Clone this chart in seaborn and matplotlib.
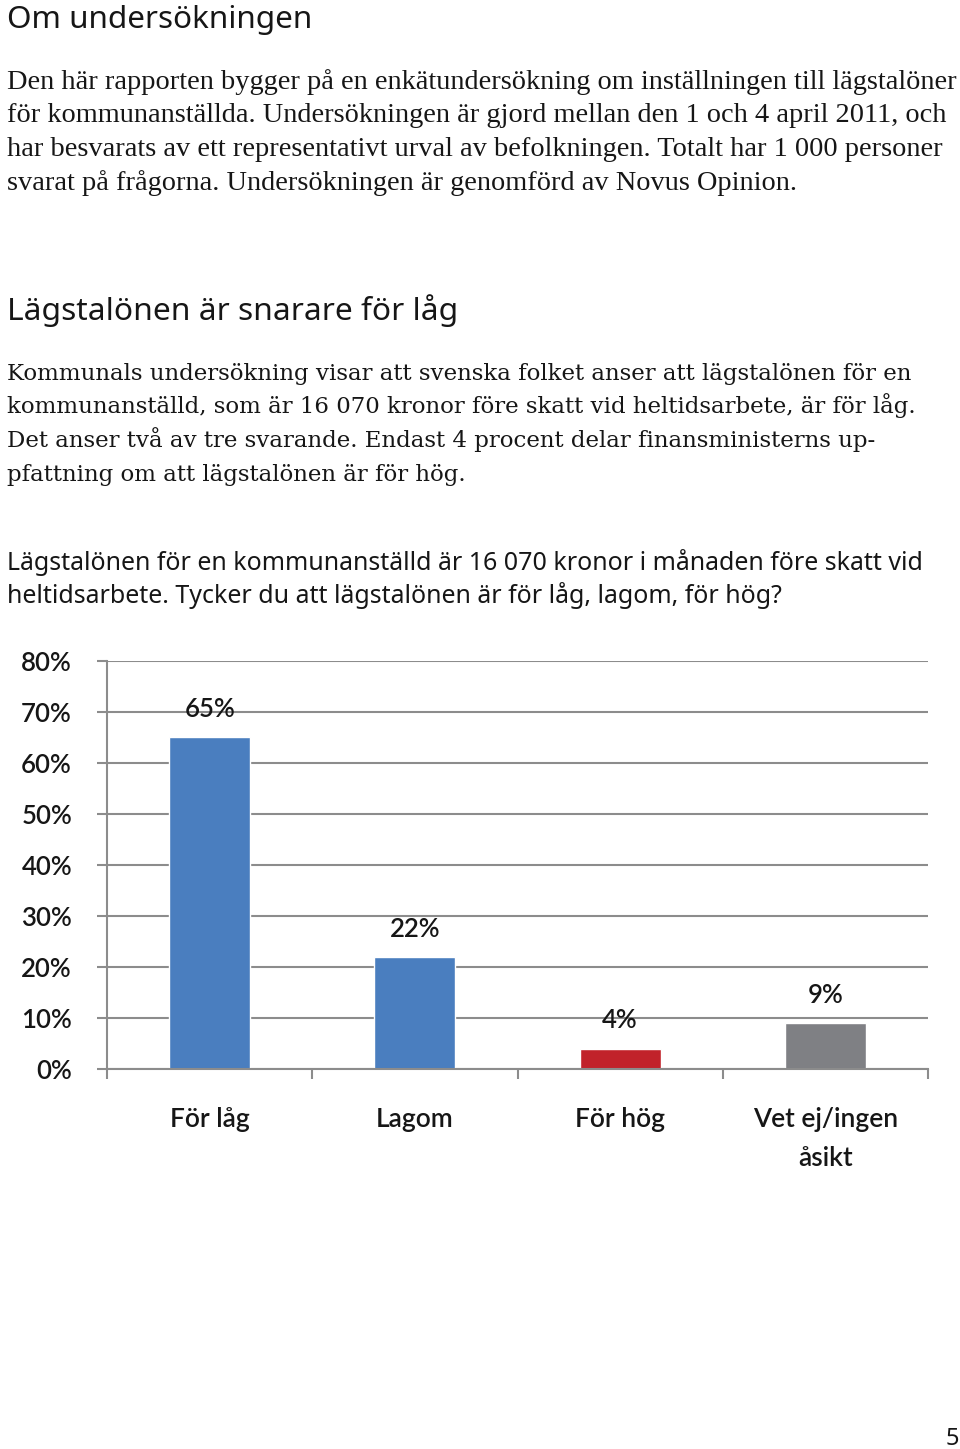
import matplotlib
matplotlib.use("Agg")
import matplotlib.pyplot as plt
import seaborn as sns
import pandas as pd

# ---------------- data ----------------
categories = ["För låg", "Lagom", "För hög", "Vet ej/ingen\nåsikt"]
values = [65, 22, 4, 9]
bar_colors = ["#4A7EBF", "#4A7EBF", "#C1222A", "#7F8084"]
y_ticks = [0, 10, 20, 30, 40, 50, 60, 70, 80]
y_tick_labels = [f"{v}%" for v in y_ticks]
bar_labels = [f"{v}%" for v in values]

title1 = "Om undersökningen"
para1 = [
    "Den här rapporten bygger på en enkätundersökning om inställningen till lägstalöner",
    "för kommunanställda. Undersökningen är gjord mellan den 1 och 4 april 2011, och",
    "har besvarats av ett representativt urval av befolkningen. Totalt har 1 000 personer",
    "svarat på frågorna. Undersökningen är genomförd av Novus Opinion.",
]
title2 = "Lägstalönen är snarare för låg"
para2 = [
    "Kommunals undersökning visar att svenska folket anser att lägstalönen för en",
    "kommunanställd, som är 16 070 kronor före skatt vid heltidsarbete, är för låg.",
    "Det anser två av tre svarande. Endast 4 procent delar finansministerns up-",
    "pfattning om att lägstalönen är för hög.",
]
question = [
    "Lägstalönen för en kommunanställd är 16 070 kronor i månaden före skatt vid",
    "heltidsarbete. Tycker du att lägstalönen är för låg, lagom, för hög?",
]
page_number = "5"

# ---------------- figure ----------------
sns.set_theme(style="white")
plt.rcParams["font.family"] = ["Lato", "DejaVu Sans"]

W, H = 960, 1449
fig = plt.figure(figsize=(W / 100, H / 100), dpi=100)
fig.patch.set_facecolor("white")
renderer = fig.canvas.get_renderer()
TXT = "#161616"
SANS = ["Noto Sans", "DejaVu Sans"]


def fx(px):
    return px / W


def fy(py):
    return 1 - py / H


def block(lines, baselines, ref_idx, ref_width, family, weight="normal"):
    probe = fig.text(0, 0, lines[ref_idx], fontsize=10, family=family, weight=weight)
    w = probe.get_window_extent(renderer).width
    probe.remove()
    size = 10 * ref_width / w
    for line, b in zip(lines, baselines):
        fig.text(fx(7), fy(b), line, fontsize=size, family=family, weight=weight,
                 color=TXT, ha="left", va="baseline")


block([title1], [28], 0, 306, SANS)
block(para1, [89, 122.5, 156, 189.5], 0, 951, ["Liberation Serif", "DejaVu Serif"])
block([title2], [320], 0, 450, SANS)
block(para2, [380, 413.5, 447, 480.5], 1, 915, ["DejaVu Serif"])
block(question, [570, 603], 0, 914, SANS)
fig.text(fx(959), fy(1445), page_number, fontsize=17, family=SANS,
         weight="bold", color=TXT, ha="right", va="baseline")

# ---------------- chart ----------------
ax = fig.add_axes([fx(107), fy(1069), (928 - 107) / W, (1069 - 661) / H])
df = pd.DataFrame({"cat": categories, "val": values})
sns.barplot(data=df, x="cat", y="val", hue="cat", palette=bar_colors,
            width=0.395, legend=False, ax=ax, saturation=1)

GRID = "#8c8c8c"
ax.set_ylim(0, 80)
ax.set_xlim(-0.5, len(categories) - 0.5)
ax.set_yticks(y_ticks)
ax.set_yticklabels(y_tick_labels)
ax.yaxis.grid(True, color=GRID, lw=1.5)
ax.set_axisbelow(True)
ax.set_xlabel("")
ax.set_ylabel("")
for s in ["top", "right"]:
    ax.spines[s].set_visible(False)
for s in ["left", "bottom"]:
    ax.spines[s].set_color(GRID)
    ax.spines[s].set_linewidth(1.5)

ax.tick_params(axis="y", which="major", length=7.2, width=1.5, color=GRID,
               direction="out", pad=18, labelsize=18.5, labelcolor=TXT, left=True)
ax.set_xticks([i - 0.5 for i in range(len(categories) + 1)], minor=True)
ax.tick_params(axis="x", which="minor", length=7.2, width=1.5, color=GRID,
               direction="out", bottom=True)
ax.tick_params(axis="x", which="major", length=0, pad=27, labelsize=19,
               labelcolor=TXT)
for lbl in ax.get_xticklabels() + ax.get_yticklabels():
    lbl.set_fontweight("semibold")
for lbl in ax.get_xticklabels():
    lbl.set_linespacing(1.75)
    lbl.set_verticalalignment("top")

for cont in ax.containers:
    idx = [int(round(p.get_x() + p.get_width() / 2)) for p in cont.patches]
    ax.bar_label(cont, labels=[bar_labels[i] for i in idx], padding=11,
                 fontsize=18.5, color=TXT, fontweight="semibold")

fig.savefig("out.png", dpi=100, facecolor="white")
